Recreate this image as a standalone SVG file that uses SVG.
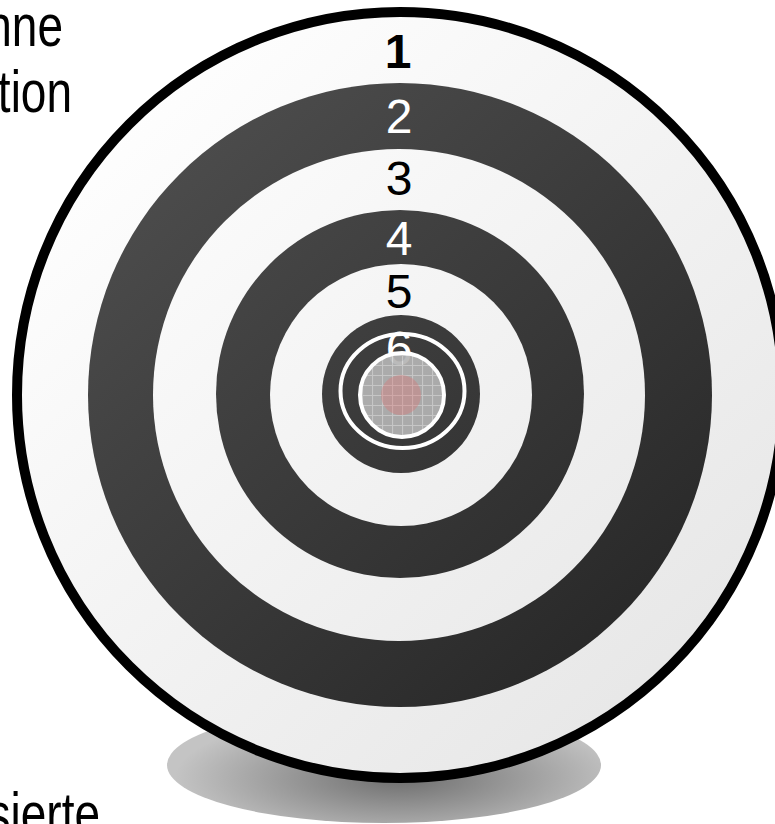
<svg xmlns="http://www.w3.org/2000/svg" width="775" height="824" viewBox="0 0 775 824">
<defs>
<linearGradient id="light" gradientUnits="userSpaceOnUse" x1="100" y1="80" x2="700" y2="720">
<stop offset="0" stop-color="#ffffff"/>
<stop offset="1" stop-color="#e6e6e6"/>
</linearGradient>
<linearGradient id="dark" gradientUnits="userSpaceOnUse" x1="150" y1="120" x2="650" y2="680">
<stop offset="0" stop-color="#4e4e4e"/>
<stop offset="1" stop-color="#262626"/>
</linearGradient>
<radialGradient id="shadowG" gradientUnits="userSpaceOnUse" cx="400" cy="778" r="225" gradientTransform="translate(400 778) scale(1 0.3) translate(-400 -778)">
<stop offset="0" stop-color="#6e6e6e"/>
<stop offset="1" stop-color="#c4c4c4"/>
</radialGradient>
<pattern id="grid" patternUnits="userSpaceOnUse" x="2" y="5" width="10" height="10">
<rect width="10" height="10" fill="#b4b4b4"/>
<path d="M0 0.5H10M0.5 0V10" stroke="#d2d2d2" stroke-width="1.2"/>
</pattern>
<style>
.lbl{font-family:"Liberation Sans",Arial,sans-serif;font-size:48px;text-anchor:middle}
.blk{fill:#000}
.wht{fill:#fff}
.bold{font-weight:bold}
.side{font-family:"Liberation Sans",Arial,sans-serif;font-size:46px;fill:#000;text-anchor:end}
</style>
</defs>
<rect width="775" height="824" fill="#fff"/>
<g id="side-text">
<text class="side" transform="translate(63 46) scale(1 1.3)">nne</text>
<text class="side" transform="translate(72 112) scale(1 1.3)">tion</text>
<text class="side" transform="translate(100 834) scale(1 1.3)">sierte</text>
</g>
<g id="shadow">
<ellipse cx="384" cy="765" rx="217" ry="58" fill="url(#shadowG)"/>
</g>
<g id="target">
<circle cx="400" cy="395" r="383" fill="url(#light)" stroke="#000" stroke-width="10"/>
<circle cx="400" cy="395" r="312" fill="url(#dark)"/>
<circle cx="399" cy="395" r="246" fill="url(#light)"/>
<circle cx="400" cy="394" r="184" fill="url(#dark)"/>
<circle cx="401" cy="395" r="131" fill="url(#light)"/>
<circle cx="401" cy="394" r="79" fill="url(#dark)"/>
</g>
<g id="labels">
<text class="lbl blk bold" x="398" y="68">1</text>
<text class="lbl wht" x="399" y="133">2</text>
<text class="lbl blk" x="399" y="195">3</text>
<text class="lbl wht" x="399" y="255">4</text>
<text class="lbl blk" x="399" y="308">5</text>
<text class="lbl wht" x="399" y="365">6</text>
</g>
<g id="bullseye">
<ellipse cx="402.5" cy="391" rx="62" ry="57" fill="none" stroke="#fff" stroke-width="4"/>
<circle cx="402" cy="395" r="42" fill="url(#grid)" fill-opacity="0.92" stroke="#fff" stroke-width="4"/>
<circle cx="401" cy="395" r="20" fill="#e07070" fill-opacity="0.35"/>
</g>
</svg>
